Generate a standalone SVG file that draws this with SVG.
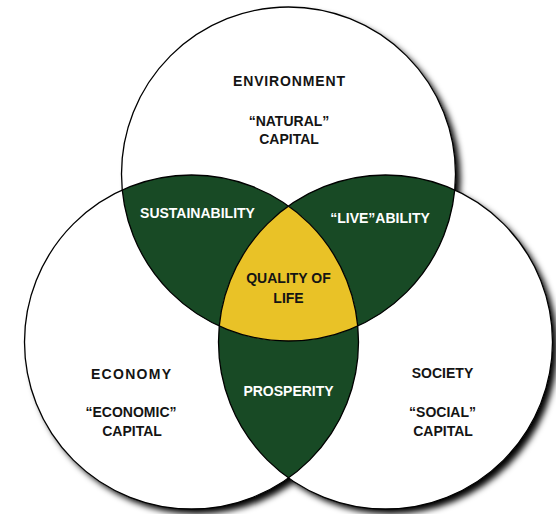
<svg xmlns="http://www.w3.org/2000/svg" width="556" height="514" viewBox="0 0 556 514">
  <style>
    .base { fill: #ffffff; }
    .outline { fill: none; stroke: #000000; stroke-width: 1.3; }
    .green { fill: #184a25; }
    .yellow { fill: #e9c227; }
    text { font-family: "Liberation Sans", Arial, sans-serif; font-weight: bold; font-size: 14px; text-anchor: middle; }
    .dark { fill: #141414; }
    .light { fill: #ffffff; }
  </style>
  <defs>
    <filter id="shadow" x="-10%" y="-10%" width="125%" height="125%">
      <feDropShadow dx="5" dy="5" stdDeviation="3" flood-color="#000000" flood-opacity="1"/>
    </filter>
  </defs>
  <rect x="0" y="0" width="556" height="514" fill="#ffffff"/>
  <!-- shadowed base of the three circles -->
  <g id="base" filter="url(#shadow)">
    <circle class="base" cx="288.5" cy="174" r="167"/>
    <circle class="base" cx="191.5" cy="342" r="167"/>
    <circle class="base" cx="385.5" cy="342" r="167"/>
  </g>
  <!-- overlap regions -->
  <g id="node-sustainability">
    <path class="green" d="M 122.3 190 A 167 167 0 0 1 288.5 206.06 A 167 167 0 0 0 219.3 326 A 167 167 0 0 1 122.3 190 Z"/>
  </g>
  <g id="node-liveability">
    <path class="green" d="M 454.7 190 A 167 167 0 0 0 288.5 206.06 A 167 167 0 0 1 357.7 326 A 167 167 0 0 0 454.7 190 Z"/>
  </g>
  <g id="node-prosperity">
    <path class="green" d="M 219.3 326 A 167 167 0 0 0 357.7 326 A 167 167 0 0 1 288.5 477.94 A 167 167 0 0 1 219.3 326 Z"/>
  </g>
  <g id="node-quality">
    <path class="yellow" d="M 288.5 206.06 A 167 167 0 0 1 357.7 326 A 167 167 0 0 1 219.3 326 A 167 167 0 0 1 288.5 206.06 Z"/>
  </g>
  <!-- circle outlines -->
  <g id="node-environment">
    <circle class="outline" cx="288.5" cy="174" r="167"/>
    <text class="dark" x="289" y="86" textLength="112" lengthAdjust="spacing">ENVIRONMENT</text>
    <text class="dark" x="289" y="126">“NATURAL”</text>
    <text class="dark" x="289" y="144">CAPITAL</text>
  </g>
  <g id="node-economy">
    <circle class="outline" cx="191.5" cy="342" r="167"/>
    <text class="dark" x="131" y="379" textLength="80" lengthAdjust="spacing">ECONOMY</text>
    <text class="dark" x="131" y="417">“ECONOMIC”</text>
    <text class="dark" x="132" y="436">CAPITAL</text>
  </g>
  <g id="node-society">
    <circle class="outline" cx="385.5" cy="342" r="167"/>
    <text class="dark" x="442.5" y="378">SOCIETY</text>
    <text class="dark" x="442.5" y="417">“SOCIAL”</text>
    <text class="dark" x="443" y="436">CAPITAL</text>
  </g>
  <g id="labels">
    <text class="light" x="197.5" y="218">SUSTAINABILITY</text>
    <text class="light" x="380" y="223">“LIVE”ABILITY</text>
    <text class="dark" x="288.5" y="283">QUALITY OF</text>
    <text class="dark" x="288.5" y="303">LIFE</text>
    <text class="light" x="288.5" y="395.5">PROSPERITY</text>
  </g>
</svg>
